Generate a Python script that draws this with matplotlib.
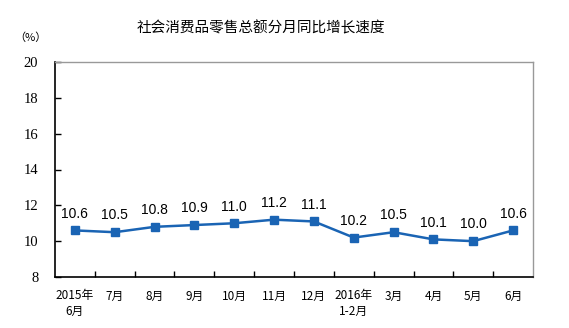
import matplotlib
matplotlib.use("Agg")
import matplotlib.pyplot as plt

plt.rcParams['font.family'] = ['Noto Sans CJK SC', 'DejaVu Sans']
plt.rcParams['font.serif'] = ['Liberation Serif', 'DejaVu Serif']

months = ['2015年\n6月', '7月', '8月', '9月', '10月', '11月', '12月',
          '2016年\n1-2月', '3月', '4月', '5月', '6月']
growth = [10.6, 10.5, 10.8, 10.9, 11.0, 11.2, 11.1, 10.2, 10.5, 10.1, 10.0, 10.6]
yticks = [8, 10, 12, 14, 16, 18, 20]

line_color = '#1a64b4'

fig = plt.figure(figsize=(5.69, 3.28), dpi=100)
ax = fig.add_axes([55 / 569, 1 - 277 / 328, 478 / 569, 215 / 328])

x = list(range(len(growth)))
ax.plot(x, growth, color=line_color, lw=1.8, marker='s', ms=5.5, zorder=3)
for xi, v in zip(x, growth):
    ax.annotate(f'{v:.1f}', (xi, v), xytext=(0, 7), textcoords='offset points',
                ha='center', va='bottom', fontsize=10, family='Liberation Sans')

ax.set_xlim(-0.5, len(growth) - 0.5)
ax.set_ylim(8, 20)
ax.set_yticks(yticks)
ax.set_yticklabels([str(t) for t in yticks], fontfamily='serif', fontsize=10.5)

# tick marks sit on category boundaries, labels at the centres
ax.set_xticks([i + 0.5 for i in range(len(growth) - 1)])
ax.set_xticklabels([])
ax.set_xticks(x, minor=True)
ax.set_xticklabels(months, minor=True, fontsize=8.5, linespacing=1.25, va='top')
ax.tick_params(axis='x', which='major', direction='in', length=4, width=1)
ax.tick_params(axis='x', which='minor', length=0, pad=9)
ax.tick_params(axis='y', direction='in', length=4, width=1, pad=12)

for side in ['top', 'right']:
    ax.spines[side].set_color('#999999')
    ax.spines[side].set_linewidth(1)
for side in ['left', 'bottom']:
    ax.spines[side].set_color('black')
    ax.spines[side].set_linewidth(1.2)

fig.text(261 / 569, 1 - 28 / 328, '社会消费品零售总额分月同比增长速度',
         ha='center', va='center', fontsize=10.5)
fig.text(30 / 569, 1 - 38 / 328, '（%）', ha='center', va='center', fontsize=8)

fig.savefig('out.png', dpi=100)
